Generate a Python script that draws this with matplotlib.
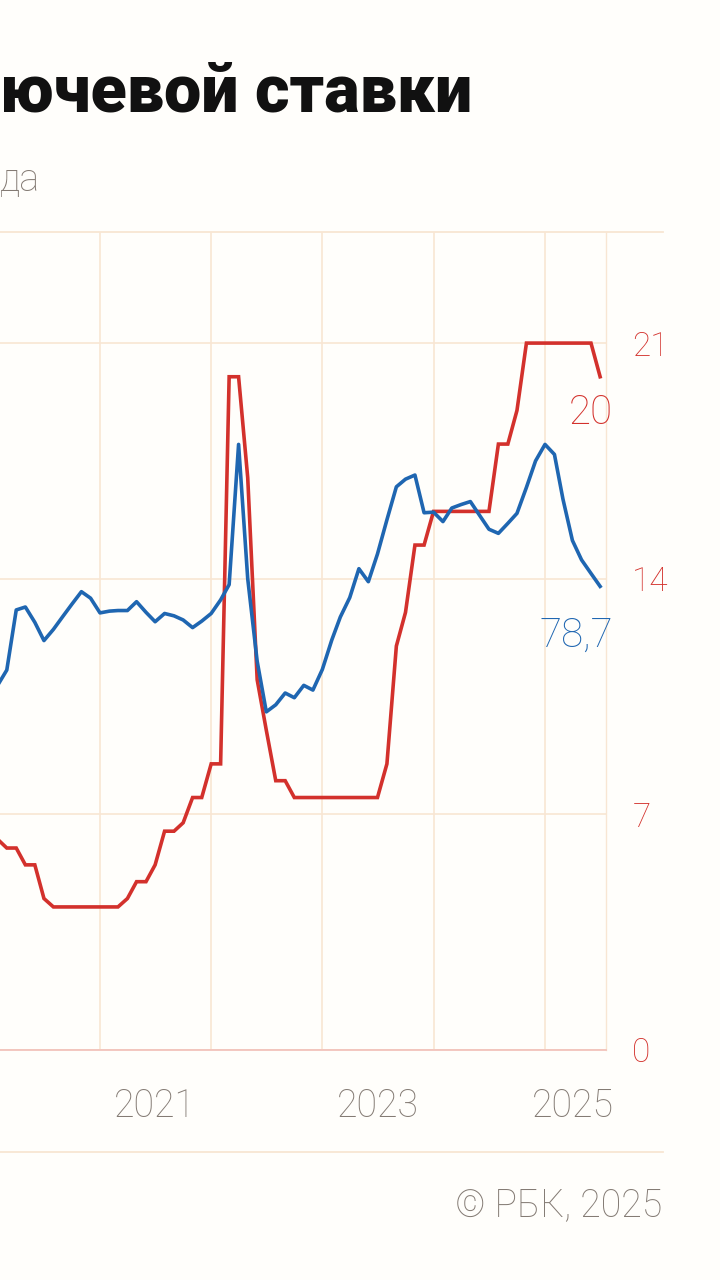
import matplotlib
matplotlib.use("Agg")
import matplotlib.pyplot as plt
import matplotlib.dates as mdates
from matplotlib.lines import Line2D
import pandas as pd

# monthly values, each plotted at the first day of the following month
first_point = "2019-12-01"
key_rate = [6.5, 6.25,
            6.25, 6.0, 6.0, 5.5, 5.5, 4.5, 4.25, 4.25, 4.25, 4.25, 4.25,
            4.25, 4.25, 4.25, 4.5, 5.0, 5.0, 5.5, 6.5, 6.5, 6.75, 7.5, 7.5,
            8.5, 8.5, 20, 20, 17, 11, 9.5, 8.0, 8.0, 7.5, 7.5, 7.5,
            7.5, 7.5, 7.5, 7.5, 7.5, 7.5, 7.5, 8.5, 12, 13, 15, 15,
            16, 16, 16, 16, 16, 16, 16, 18, 18, 19, 21, 21,
            21, 21, 21, 21, 21, 21, 20]
usd_rub = [64.1, 63.7,
           62.0, 64.5, 74.7, 75.2, 72.6, 69.5, 71.4, 73.6, 75.7, 77.8, 76.7,
           74.2, 74.5, 74.6, 74.6, 76.1, 74.3, 72.7, 74.1, 73.7, 73.0, 71.7, 72.8,
           74.1, 76.4, 79.0, 102.8, 80.0, 66.0, 57.4, 58.6, 60.6, 59.8, 61.9, 61.1,
           64.6, 69.6, 73.5, 76.8, 81.7, 79.5, 84.2, 90.0, 95.6, 96.9, 97.6, 91.2,
           91.3, 89.7, 92.0, 92.6, 93.1, 90.7, 88.4, 87.7, 89.4, 91.1, 95.5, 100.0,
           102.8, 101.1, 93.5, 86.5, 83.2, 80.9, 78.7]
year_starts = ["2021-01-01", "2022-01-01", "2023-01-01", "2024-01-01", "2025-01-01"]
year_label_pos = ["2021-07-01", "2023-07-01", "2025-04-01"]
year_labels = ["2021", "2023", "2025"]
rate_ticks = [0, 7, 14, 21]

RED = "#d3312c"
BLUE = "#1f66b1"
GRID = "#f8e6d3"
GRAY = "#847b74"
BG = "#fffefb"

plt.rcParams['font.family'] = ['Roboto', 'DejaVu Sans']

W, H = 720, 1280
def fx(px):
    return px / W
def fy(py):
    return 1 - py / H

dates = pd.date_range(first_point, periods=len(key_rate), freq="MS")

fig = plt.figure(figsize=(7.2, 12.8), dpi=100, facecolor=BG)
ax = fig.add_axes([0, fy(1050), fx(606), (1050 - 232) / H])
ax.set_facecolor(BG)

ax.plot(dates, key_rate, color=RED, lw=2.6, solid_joinstyle="miter", zorder=3)

ax_b = ax.twinx()
ax_b.plot(dates, usd_rub, color=BLUE, lw=2.6, zorder=4)
ax_b.axis("off")

ax.set_xticks(pd.to_datetime(year_starts))
ax.set_xticklabels([])
ax.set_xticks(pd.to_datetime(year_label_pos), minor=True)
ax.set_xticklabels(year_labels, minor=True)
ax.tick_params(axis="x", which="both", length=0, pad=27, labelsize=27, labelcolor=GRAY)
for t in ax.get_xticklabels(minor=True):
    t.set_fontweight("light")
ax.xaxis.grid(True, which="major", color=GRID, lw=1.2)

# one year = 111.25 px, Jan 2021 sits at x=100
d21 = mdates.date2num(pd.Timestamp("2021-01-01"))
px_per_day = 111.25 / 365.25
ax.set_xlim(d21 - 100 / px_per_day, d21 + 506 / px_per_day)
ymax = 24.3
ax.set_ylim(0, ymax)
ax_b.set_ylim(0, ymax * 40 / 7)

ax.yaxis.tick_right()
ax.set_yticks(rate_ticks)
ax.set_yticklabels([str(v) for v in rate_ticks])
ax.tick_params(axis="y", length=0, pad=19, labelsize=24, labelcolor=RED)
for t in ax.get_yticklabels():
    t.set_fontweight("light")
ax.yaxis.grid(True, color=GRID, lw=1.2)
ax.set_axisbelow(True)

for side in ["left", "top"]:
    ax.spines[side].set_visible(False)
ax.spines["right"].set_color(GRID)
ax.spines["right"].set_linewidth(1.0)
ax.spines["bottom"].set_color("#f2c3bb")
ax.spines["bottom"].set_linewidth(1.3)

ax.annotate("20", xy=(dates[-1], key_rate[-1]), xytext=(9.5, -26),
            textcoords="offset points", ha="right", va="center",
            fontsize=29, fontweight="light", color=RED)
ax_b.annotate("78,7", xy=(dates[-1], usd_rub[-1]), xytext=(9.5, -35),
              textcoords="offset points", ha="right", va="center",
              fontsize=29, fontweight="light", color=BLUE)

# frame lines
fig.add_artist(Line2D([0, fx(663)], [fy(232), fy(232)], color=GRID, lw=1.3))
fig.add_artist(Line2D([0, fx(663)], [fy(1152), fy(1152)], color=GRID, lw=1.3))

fig.text(0, fy(94), "ючевой ставки", ha="left", va="center",
         fontsize=47.8, fontweight="black", color="#111111")
fig.text(0, fy(180), "да", ha="left", va="center",
         fontsize=27, fontweight="light", color=GRAY)
fig.text(fx(662), fy(1205), "© РБК, 2025", ha="right", va="center",
         fontsize=27, fontweight="light", color=GRAY)

fig.savefig("out.png", dpi=100, facecolor=BG)
